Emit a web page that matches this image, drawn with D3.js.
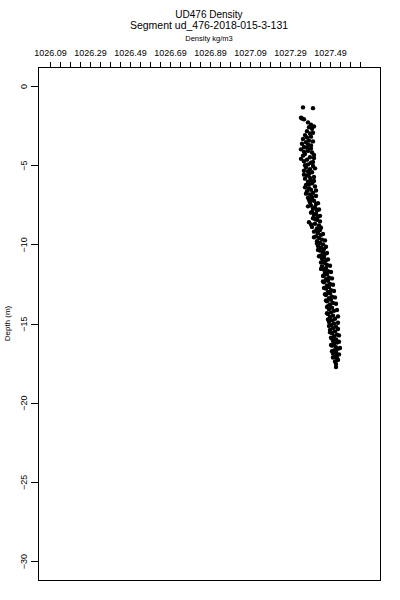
<!DOCTYPE html>
<html>
<head>
<meta charset="utf-8">
<script src="https://cdn.jsdelivr.net/npm/d3@7"></script>
<style>
body { margin: 0; background: #fff; }
text { font-family: "Liberation Sans", Arial, sans-serif; fill: #000; }
</style>
</head>
<body>
<div id="chart-area"></div>
<script>
/*
*    density profile
*/
var titleLines = ["UD476 Density", "Segment ud_476-2018-015-3-131"];
var xLabel = "Density kg/m3";
var yLabel = "Depth (m)";

var densityTicks = [1026.09, 1026.29, 1026.49, 1026.69, 1026.89, 1027.09, 1027.29, 1027.49];
var densityTickLabels = ["1026.09", "1026.29", "1026.49", "1026.69", "1026.89", "1027.09", "1027.29", "1027.49"];
var depthTicks = [0, -5, -10, -15, -20, -25, -30];

var depthM = [
  -1.35, -1.40, -2.05, -2.10, -2.45, -2.60, -2.70, -2.85, -3.00, -3.10,
  -3.20, -3.35, -3.45, -3.55, -3.65, -3.75, -3.85, -3.90, -4.00, -4.10,
  -4.20, -4.30, -4.40, -4.50, -4.55, -4.65, -4.75, -4.85, -4.95, -5.05,
  -5.15, -5.25, -5.35, -5.45, -5.55, -5.65, -5.75, -5.85, -5.95, -6.05,
  -6.15, -6.25, -6.35, -6.45, -6.55, -6.65, -6.75, -6.85, -6.95, -7.05,
  -7.15, -7.25, -7.35, -7.45, -7.55, -7.65, -7.75, -7.85, -7.95, -8.05,
  -8.15, -8.25, -8.35, -8.45, -8.60, -8.70, -8.80, -8.90, -9.00, -9.10,
  -9.20, -9.30, -9.40, -9.50, -9.60, -9.70, -9.80, -9.90, -10.00, -10.10,
  -10.20, -10.30, -10.40, -10.50, -10.60, -10.70, -10.80, -10.90, -11.00, -11.10,
  -11.20, -11.30, -11.40, -11.50, -11.60, -11.70, -11.80, -11.90, -12.00, -12.10,
  -12.20, -12.30, -12.40, -12.50, -12.60, -12.70, -12.80, -12.90, -13.00, -13.10,
  -13.20, -13.30, -13.40, -13.50, -13.60, -13.70, -13.80, -13.90, -14.00, -14.10,
  -14.20, -14.30, -14.40, -14.50, -14.60, -14.70, -14.80, -14.90, -15.00, -15.10,
  -15.20, -15.30, -15.40, -15.50, -15.60, -15.70, -15.80, -15.90, -16.00, -16.10,
  -16.20, -16.30, -16.40, -16.50, -16.60, -16.70, -16.80, -16.90, -17.00, -17.10,
  -17.20, -17.40, -17.75,
  -2.00, -2.30, -2.55, -2.95, -3.25, -3.50, -3.70, -3.95, -4.15, -4.35,
  -4.60, -4.80, -5.00, -5.20, -5.40, -5.60, -5.80, -6.00, -6.20, -6.40,
  -6.60, -6.80, -7.00, -7.20, -7.40, -7.60, -7.80, -8.00, -8.20, -8.40,
  -8.55, -8.75, -8.95, -9.15, -9.35, -9.55, -9.75, -9.95, -10.15, -10.35,
  -10.55, -10.75, -10.95, -11.15, -11.35, -11.55, -11.75, -11.95, -12.15, -12.35,
  -12.55, -12.75, -12.95, -13.15, -13.35, -13.55, -13.75, -13.95, -14.15, -14.35,
  -14.55, -14.75, -14.95, -15.15, -15.35, -15.55, -15.75, -15.95, -16.15, -16.35,
  -16.55, -16.75, -16.95, -17.15, -17.30, -17.55
];
var densityKgM3 = [
  1027.355, 1027.405, 1027.350, 1027.360, 1027.395, 1027.385, 1027.400, 1027.375, 1027.390, 1027.365,
  1027.395, 1027.355, 1027.385, 1027.370, 1027.350, 1027.395, 1027.360, 1027.375, 1027.345, 1027.380,
  1027.400, 1027.365, 1027.355, 1027.390, 1027.410, 1027.375, 1027.360, 1027.395, 1027.380, 1027.405,
  1027.370, 1027.390, 1027.360, 1027.400, 1027.385, 1027.375, 1027.410, 1027.365, 1027.395, 1027.380,
  1027.400, 1027.370, 1027.415, 1027.385, 1027.395, 1027.375, 1027.405, 1027.390, 1027.420, 1027.380,
  1027.400, 1027.410, 1027.390, 1027.420, 1027.395, 1027.415, 1027.405, 1027.425, 1027.400, 1027.420,
  1027.410, 1027.430, 1027.405, 1027.425, 1027.385, 1027.415, 1027.435, 1027.400, 1027.425, 1027.440,
  1027.410, 1027.430, 1027.445, 1027.420, 1027.435, 1027.450, 1027.425, 1027.440, 1027.455, 1027.430,
  1027.445, 1027.460, 1027.440, 1027.455, 1027.465, 1027.445, 1027.460, 1027.450, 1027.470, 1027.455,
  1027.465, 1027.475, 1027.450, 1027.470, 1027.460, 1027.480, 1027.465, 1027.475, 1027.455, 1027.485,
  1027.470, 1027.480, 1027.460, 1027.490, 1027.475, 1027.485, 1027.470, 1027.495, 1027.480, 1027.490,
  1027.470, 1027.500, 1027.485, 1027.495, 1027.475, 1027.505, 1027.490, 1027.480, 1027.500, 1027.485,
  1027.510, 1027.495, 1027.480, 1027.505, 1027.490, 1027.515, 1027.500, 1027.485, 1027.510, 1027.495,
  1027.520, 1027.505, 1027.490, 1027.515, 1027.500, 1027.525, 1027.510, 1027.495, 1027.520, 1027.505,
  1027.525, 1027.510, 1027.500, 1027.520, 1027.530, 1027.510, 1027.520, 1027.505, 1027.525, 1027.515,
  1027.525, 1027.515, 1027.520,
  1027.345, 1027.380, 1027.410, 1027.405, 1027.375, 1027.405, 1027.380, 1027.395, 1027.360, 1027.410,
  1027.345, 1027.405, 1027.365, 1027.415, 1027.380, 1027.360, 1027.390, 1027.410, 1027.385, 1027.365,
  1027.420, 1027.370, 1027.400, 1027.385, 1027.430, 1027.380, 1027.435, 1027.395, 1027.440, 1027.415,
  1027.440, 1027.395, 1027.445, 1027.420, 1027.455, 1027.410, 1027.465, 1027.425, 1027.470, 1027.430,
  1027.475, 1027.435, 1027.480, 1027.445, 1027.490, 1027.445, 1027.495, 1027.460, 1027.500, 1027.455,
  1027.505, 1027.460, 1027.510, 1027.465, 1027.515, 1027.470, 1027.520, 1027.475, 1027.525, 1027.475,
  1027.530, 1027.480, 1027.530, 1027.485, 1027.530, 1027.490, 1027.535, 1027.500, 1027.535, 1027.495,
  1027.540, 1027.500, 1027.535, 1027.505, 1027.530, 1027.520
];

var width = 400;
var height = 600;
var plot = {left: 38, right: 380, top: 67, bottom: 580};

var svg = d3.select("#chart-area")
    .append("svg")
    .attr("width", width)
    .attr("height", height);

var x = d3.scaleLinear().domain([1026.03, 1027.74]).range([plot.left, plot.right]);
var y = d3.scaleLinear().domain([1.2, -31.2]).range([plot.top, plot.bottom]);

// titles
svg.append("text")
    .attr("x", (plot.left + plot.right) / 2)
    .attr("y", 17.5)
    .attr("font-size", "10px")
    .attr("text-anchor", "middle")
    .text(titleLines[0]);
svg.append("text")
    .attr("x", (plot.left + plot.right) / 2)
    .attr("y", 28.5)
    .attr("font-size", "10.5px")
    .attr("text-anchor", "middle")
    .text(titleLines[1]);
svg.append("text")
    .attr("x", (plot.left + plot.right) / 2)
    .attr("y", 40.5)
    .attr("font-size", "7.5px")
    .attr("text-anchor", "middle")
    .text(xLabel);

// top axis, minor ticks every 0.05
var minorTicks = d3.range(0, 32).map((i) => { return +(densityTicks[0] + i * 0.05).toFixed(2); });
var xAxisCall = d3.axisTop(x)
    .tickValues(minorTicks)
    .tickSize(5)
    .tickPadding(6)
    .tickFormat((d) => {
        var i = densityTicks.findIndex((t) => { return Math.abs(t - d) < 1e-6; });
        return i >= 0 ? densityTickLabels[i] : "";
    });
var xAxisGroup = svg.append("g")
    .attr("transform", "translate(0, " + plot.top + ")")
    .call(xAxisCall);
xAxisGroup.select(".domain").remove();
xAxisGroup.selectAll("line").attr("stroke", "black").attr("shape-rendering", "crispEdges");
xAxisGroup.selectAll("text")
    .attr("font-family", "Liberation Sans, Arial, sans-serif")
    .attr("font-size", "9px")
    .style("fill", "black");

// left axis
var yAxisCall = d3.axisLeft(y).tickValues(depthTicks).tickSize(7);
var yAxisGroup = svg.append("g")
    .attr("transform", "translate(" + plot.left + ", 0)")
    .call(yAxisCall);
yAxisGroup.select(".domain").remove();
yAxisGroup.selectAll("line").attr("stroke", "black").attr("shape-rendering", "crispEdges");
yAxisGroup.selectAll("text")
    .attr("font-family", "Liberation Sans, Arial, sans-serif")
    .attr("font-size", "9px")
    .attr("transform", "rotate(-90)")
    .attr("x", 0)
    .attr("y", -11)
    .attr("dy", "0")
    .attr("text-anchor", "middle")
    .style("fill", "black");

svg.append("text")
    .attr("transform", "translate(10, " + ((plot.top + plot.bottom) / 2) + ") rotate(-90)")
    .attr("font-size", "8px")
    .attr("text-anchor", "middle")
    .text(yLabel);

// frame
svg.append("rect")
    .attr("x", plot.left + 0.5)
    .attr("y", plot.top + 0.5)
    .attr("width", plot.right - plot.left)
    .attr("height", plot.bottom - plot.top)
    .attr("fill", "none")
    .attr("stroke", "black")
    .attr("shape-rendering", "crispEdges");

// points
svg.append("g").selectAll("circle")
    .data(depthM.map((d, i) => { return {depth: d, density: densityKgM3[i]}; }))
    .enter().append("circle")
    .attr("cx", (d) => { return x(d.density); })
    .attr("cy", (d) => { return y(d.depth); })
    .attr("r", 2.2)
    .attr("fill", "black");
</script>
</body>
</html>
